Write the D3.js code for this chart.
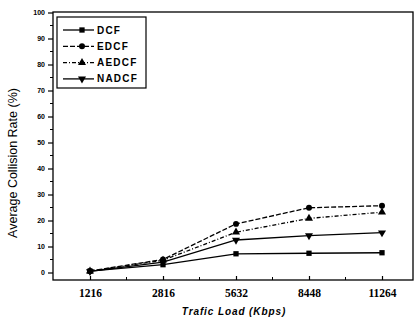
<!DOCTYPE html>
<html>
<head>
<meta charset="utf-8">
<script src="https://cdn.jsdelivr.net/npm/d3@7"></script>
<style>
  body { margin: 0; background: #fff; }
  svg { display: block; }
</style>
</head>
<body>
<div id="app"></div>
<script>
// chart data
var loads = ["1216", "2816", "5632", "8448", "11264"];
var dcf   = [0.5, 3.0, 7.2, 7.4, 7.6];
var edcf  = [0.6, 5.0, 18.7, 24.9, 25.7];
var aedcf = [0.5, 4.7, 15.5, 20.8, 23.2];
var nadcf = [0.4, 4.0, 12.5, 14.2, 15.3];
var yTicks = [0, 10, 20, 30, 40, 50, 60, 70, 80, 90, 100];

var series = [
    {name: "DCF",   values: dcf,   symbol: d3.symbolSquare,   dash: null,      rot: 0},
    {name: "EDCF",  values: edcf,  symbol: d3.symbolCircle,   dash: "5,2",     rot: 0},
    {name: "AEDCF", values: aedcf, symbol: d3.symbolTriangle, dash: "4,2,1,2", rot: 0},
    {name: "NADCF", values: nadcf, symbol: d3.symbolTriangle, dash: null,      rot: 180}
];

var width = 418,
    height = 322;

var frame = {left: 53, right: 413, top: 12, bottom: 280};

var svg = d3.select("#app").append("svg")
    .attr("width", width)
    .attr("height", height);

var x = d3.scalePoint()
    .domain(loads)
    .range([90, 382]);

var y = d3.scaleLinear()
    .domain([0, 100])
    .range([272.5, 12.5]);

// frame
svg.append("rect")
    .attr("x", frame.left)
    .attr("y", frame.top)
    .attr("width", frame.right - frame.left)
    .attr("height", frame.bottom - frame.top)
    .attr("fill", "none")
    .attr("stroke", "#000")
    .attr("stroke-width", 1.3);

// y axis
var yAxis = svg.append("g")
    .attr("transform", "translate(" + frame.left + ",0)")
    .call(d3.axisLeft(y).tickValues(yTicks).tickSize(5).tickPadding(3));
yAxis.select(".domain").remove();
yAxis.selectAll("line").attr("stroke-width", 1.2);
yAxis.selectAll("text")
    .style("font-family", "Arial, 'Liberation Sans', sans-serif")
    .style("font-size", "7px")
    .style("font-weight", "bold");

// y minor ticks
svg.append("g").selectAll("line")
    .data(d3.range(5, 100, 10))
    .enter().append("line")
    .attr("x1", frame.left - 3)
    .attr("x2", frame.left)
    .attr("y1", function(d) { return y(d); })
    .attr("y2", function(d) { return y(d); })
    .attr("stroke", "#000")
    .attr("stroke-width", 1);

// x axis
var xAxis = svg.append("g")
    .attr("transform", "translate(0," + frame.bottom + ")")
    .call(d3.axisBottom(x).tickSize(-4).tickPadding(9));
xAxis.select(".domain").remove();
xAxis.selectAll("line").attr("stroke-width", 1.2);
xAxis.selectAll("text")
    .style("font-family", "'Liberation Serif', 'Times New Roman', serif")
    .style("font-size", "11.5px")
    .style("font-weight", "bold");

// x minor ticks between categories
var mids = d3.pairs(loads).map(function(p) { return (x(p[0]) + x(p[1])) / 2; });
mids.push(x(loads[loads.length - 1]) + x.step() / 2);
svg.append("g").selectAll("line")
    .data(mids)
    .enter().append("line")
    .attr("x1", function(d) { return d; })
    .attr("x2", function(d) { return d; })
    .attr("y1", frame.bottom)
    .attr("y2", frame.bottom - 3)
    .attr("stroke", "#000")
    .attr("stroke-width", 1);

// lines
var line = d3.line()
    .x(function(d, i) { return x(loads[i]); })
    .y(function(d) { return y(d); });

series.forEach(function(s) {
    svg.append("path")
        .datum(s.values)
        .attr("d", line)
        .attr("fill", "none")
        .attr("stroke", "#000")
        .attr("stroke-width", 1.3)
        .attr("stroke-dasharray", s.dash);

    svg.append("g").selectAll("path")
        .data(s.values)
        .enter().append("path")
        .attr("d", d3.symbol().type(s.symbol).size(28))
        .attr("transform", function(d, i) {
            return "translate(" + x(loads[i]) + "," + y(d) + ") rotate(" + s.rot + ")";
        })
        .attr("fill", "#000");
});

// legend
var legend = svg.append("g");
legend.append("rect")
    .attr("x", 57)
    .attr("y", 17)
    .attr("width", 89)
    .attr("height", 71)
    .attr("fill", "#fff")
    .attr("stroke", "#000")
    .attr("stroke-width", 1.2);

var item = legend.selectAll("g.item")
    .data(series)
    .enter().append("g")
    .attr("class", "item")
    .attr("transform", function(d, i) { return "translate(0," + (30 + i * 16.3) + ")"; });

item.append("line")
    .attr("x1", 63)
    .attr("x2", 94)
    .attr("stroke", "#000")
    .attr("stroke-width", 1.3)
    .attr("stroke-dasharray", function(d) { return d.dash; });

item.append("path")
    .attr("d", function(d) { return d3.symbol().type(d.symbol).size(28)(); })
    .attr("transform", function(d) { return "translate(82,0) rotate(" + d.rot + ")"; })
    .attr("fill", "#000");

item.append("text")
    .attr("x", 97)
    .attr("dy", "0.35em")
    .style("font-family", "Arial, 'Liberation Sans', sans-serif")
    .style("font-size", "10px")
    .style("font-weight", "bold")
    .style("letter-spacing", "1.2px")
    .text(function(d) { return d.name; });

// axis titles
svg.append("text")
    .attr("transform", "translate(17,163) rotate(-90)")
    .attr("text-anchor", "middle")
    .style("font-family", "Arial, 'Liberation Sans', sans-serif")
    .style("font-size", "12.5px")
    .text("Average Collision Rate (%)");

svg.append("text")
    .attr("x", 234)
    .attr("y", 315)
    .attr("text-anchor", "middle")
    .style("font-family", "Arial, 'Liberation Sans', sans-serif")
    .style("font-size", "10px")
    .style("font-weight", "bold")
    .style("font-style", "italic")
    .style("letter-spacing", "0.9px")
    .text("Trafic Load (Kbps)");
</script>
</body>
</html>
